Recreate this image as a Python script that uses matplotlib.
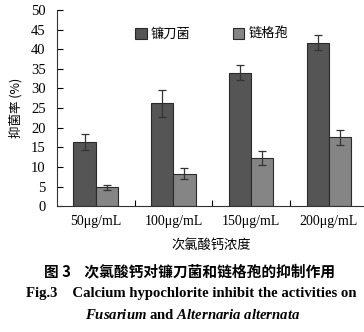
import numpy as np
import matplotlib
matplotlib.use('Agg')
import matplotlib.pyplot as plt

plt.rcParams['font.family'] = ['Liberation Serif', 'Noto Sans CJK SC']
plt.rcParams['mathtext.fontset'] = 'custom'
plt.rcParams['mathtext.it'] = 'Liberation Serif:italic:bold'
plt.rcParams['mathtext.rm'] = 'Liberation Serif:bold'

concs = ['50μg/mL', '100μg/mL', '150μg/mL', '200μg/mL']
series_names = ['镰刀菌', '链格孢']
fusarium = [16.4, 26.2, 34.0, 41.7]
fusarium_err = [2.0, 3.4, 1.9, 2.0]
alternaria = [4.8, 8.3, 12.2, 17.5]
alternaria_err = [0.6, 1.4, 1.8, 2.0]

cjk = ['Noto Sans CJK SC', 'DejaVu Sans']

fig = plt.figure(figsize=(3.64, 3.32), dpi=100)
ax = fig.add_axes([0.156, 0.379, 0.850, 0.591])

x = np.arange(len(concs))
w = 0.285
ax.bar(x - w/2, fusarium, w, yerr=fusarium_err, color='#555555', edgecolor='#2a2a2a',
       linewidth=0.8, capsize=3, error_kw=dict(elinewidth=0.9, capthick=0.9, ecolor='#333333'),
       label=series_names[0])
ax.bar(x + w/2, alternaria, w, yerr=alternaria_err, color='#858585', edgecolor='#2a2a2a',
       linewidth=0.8, capsize=3, error_kw=dict(elinewidth=0.9, capthick=0.9, ecolor='#333333'),
       label=series_names[1])

ax.set_xlim(-0.5, 3.48)
ax.set_ylim(0, 50)
ax.set_yticks(range(0, 51, 5))
ax.set_xticks(x)
ax.set_xticklabels(concs, fontsize=10)
ax.set_xticks(x[:-1] + 0.5, minor=True)
ax.tick_params(axis='x', which='major', length=0, pad=6)
ax.tick_params(axis='x', which='minor', direction='in', length=4, width=0.8)
ax.tick_params(axis='y', direction='in', length=4, width=0.8, labelsize=10.5, pad=8)
for s in ['top', 'right']:
    ax.spines[s].set_visible(False)
for s in ['left', 'bottom']:
    ax.spines[s].set_linewidth(0.8)
    ax.spines[s].set_color('#333333')

ax.set_ylabel('抑菌率 (%)', family=cjk, fontsize=9, labelpad=6)
ax.set_xlabel('次氯酸钙浓度', family=cjk, fontsize=9.5, labelpad=8)

ax.legend(loc='upper center', bbox_to_anchor=(0.5, 0.97), ncol=2, frameon=False,
          prop={'family': cjk, 'size': 9.5}, handlelength=0.9, handleheight=0.9,
          handletextpad=0.3, columnspacing=3.2)

fig.text(0.52, 0.183, '图 3    次氯酸钙对镰刀菌和链格孢的抑制作用', family=cjk,
         fontsize=10.6, fontweight='bold', ha='center', va='center')
fig.text(0.525, 0.117, 'Fig.3    Calcium hypochlorite inhibit the activities on',
         fontsize=10.6, fontweight='bold', ha='center', va='center')
fig.text(0.53, 0.052, r'$\mathit{Fusarium}$ and $\mathit{Alternaria\ alternata}$',
         fontsize=10.6, fontweight='bold', ha='center', va='center')

fig.savefig('out.png', dpi=100)
